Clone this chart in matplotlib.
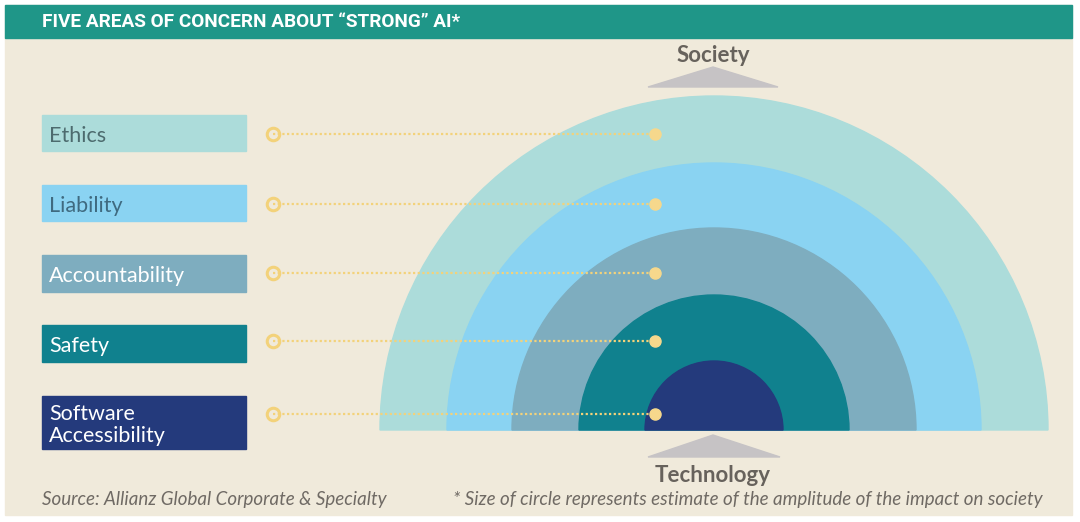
import matplotlib.pyplot as plt
from matplotlib.patches import Wedge, Rectangle, Polygon

# Concern areas (top to bottom) and the estimated size of each circle
categories = ['Ethics', 'Liability', 'Accountability', 'Safety', 'Software\nAccessibility']
radii = [334, 267, 202, 135, 69]
colors = ['#acdcda', '#8ad3f2', '#7eadbf', '#10818e', '#243a7c']
text_colors = ['#4d6b6e', '#3f6a80', '#ffffff', '#ffffff', '#ffffff']

title = 'FIVE AREAS OF CONCERN ABOUT \u201cSTRONG\u201d AI*'
source = 'Source: Allianz Global Corporate & Specialty'
note = '* Size of circle represents estimate of the amplitude of the impact on society'

fig = plt.figure(figsize=(10.8, 5.22), dpi=100)
fig.patch.set_facecolor('white')
ax = fig.add_axes([0, 0, 1, 1])
ax.set_xlim(0, 1080)
ax.set_ylim(522, 0)
ax.axis('off')

# Background panel and header bar
ax.add_patch(Rectangle((5, 5), 1067, 510, color='#f0eadb', zorder=0))
ax.add_patch(Rectangle((5, 5), 1067, 33, color='#1f9688', zorder=1))
ax.text(42, 22, title, color='white', fontsize=13.7, fontweight='bold',
        family='Roboto', va='center', ha='left', zorder=2)

# Semicircles
cx, cy = 714, 430
for r, c in zip(radii, colors):
    ax.add_patch(Wedge((cx, cy), r, 180, 360, color=c, zorder=2))

# Label boxes
box_top = [115, 185, 255, 325, 396]
box_h = [36, 36, 37, 37, 53]
for i, cat in enumerate(categories):
    ax.add_patch(Rectangle((42, box_top[i]), 204, box_h[i], color=colors[i], zorder=2))
    ax.text(49, box_top[i] + box_h[i] / 2 + 2.5, cat, color=text_colors[i], fontsize=15.5,
            family='Lato', va='center', ha='left', linespacing=1.15, zorder=3)

# Dotted leader lines
line_y = [134, 204, 273, 341, 414]
for i, y in enumerate(line_y):
    ax.plot([273, 655], [y, y], linestyle=(0, (1, 1.1)), color='#f3d27a', lw=1.6, zorder=4)
    ax.plot([273], [y], marker='o', ms=9, mfc='none', mec='#f3d27a', mew=2.2, zorder=5)
    ax.plot([655], [y], marker='o', ms=8, mfc='#f6d88c', mec='#f6d88c', zorder=5)

# Society / Technology arrows
ax.add_patch(Polygon([[648, 87], [713, 67], [778, 87]], color='#c6c3c5', zorder=2))
ax.add_patch(Polygon([[648, 457], [713, 435], [780, 457]], color='#c6c3c5', zorder=2))
ax.text(713, 55, 'Society', color='#67625c', fontsize=16, fontweight='bold',
        family='Lato', ha='center', va='center')
ax.text(713, 476, 'Technology', color='#67625c', fontsize=16, fontweight='bold',
        family='Lato', ha='center', va='center')

# Footer
ax.text(42, 499, source, color='#6f6a64', fontsize=13.5, style='italic',
        family='Lato', ha='left', va='center')
ax.text(1043, 499, note, color='#6f6a64', fontsize=13.5, style='italic',
        family='Lato', ha='right', va='center')

fig.savefig('out.png', dpi=100, facecolor=fig.get_facecolor())
